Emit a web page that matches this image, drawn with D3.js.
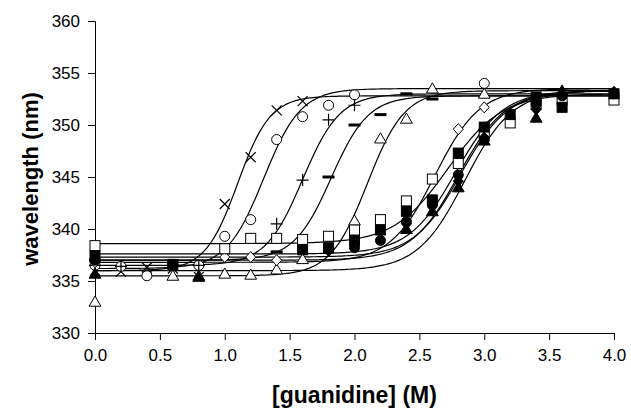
<!DOCTYPE html>
<html><head><meta charset="utf-8">
<script src="https://cdn.jsdelivr.net/npm/d3@7"></script>
<style>body{margin:0;background:#fff}text{font-family:"Liberation Sans",Arial,sans-serif}</style>
</head><body><svg id="c" width="631" height="412"></svg>
<script>
// ---- data ----
const xTicks = [0,0.5,1,1.5,2,2.5,3,3.5,4];
const yTicks = [330,335,340,345,350,355,360];
const seriesNames = ["cross","circle","plus","dash","triOpen","diaOpen","sqOpen","sqFill","cirFill","triFill","diaFill"];
const crossX = [0,0.2,0.4,0.6,0.8,1.0,1.2,1.4,1.6];
const crossY = [336.0,335.9,336.3,336.2,335.4,342.4,346.9,351.4,352.3];
const circleX = [0,0.2,0.4,0.6,0.8,1.0,1.2,1.4,1.6,1.8,2.0,3.0];
const circleY = [336.5,336.4,335.5,336.5,336.5,339.3,340.9,348.6,350.8,351.9,352.9,354.0];
const plusX = [0,0.2,0.8,1.4,1.6,1.8,2.0];
const plusY = [336.5,336.4,336.5,340.5,344.7,350.5,351.9];
const dashX = [0,1.4,1.8,2.0,2.2,2.4,2.6];
const dashY = [337.0,337.8,345.0,350.0,351.0,353.0,352.5];
const triOpenX = [0,0.6,0.8,1.0,1.2,1.4,1.6,2.0,2.2,2.4,2.6,3.0];
const triOpenY = [332.9,335.4,335.4,335.6,335.5,336.0,337.0,340.7,348.6,350.5,353.4,352.9];
const diaOpenX = [0,1.0,1.2,1.4,2.8,3.0];
const diaOpenY = [336.8,337.3,337.3,337.0,349.6,351.7];
const sqOpenX = [0,1.0,1.2,1.4,1.6,1.8,2.0,2.2,2.4,2.6,2.8,3.0,3.2,3.4,3.6,4.0];
const sqOpenY = [338.4,338.1,339.1,339.1,339.0,339.3,339.9,340.9,342.7,344.8,346.3,349.2,350.2,352.0,352.4,352.4];
const sqFillX = [0,0.6,1.6,1.8,2.0,2.2,2.4,2.6,2.8,3.0,3.2,3.4,3.6,4.0];
const sqFillY = [337.4,336.6,338.0,338.2,338.9,339.9,341.7,342.8,347.3,349.8,351.0,352.7,351.7,353.0];
const cirFillX = [0,0.6,2.0,2.2,2.4,2.6,2.8,3.0,3.4,3.6,4.0];
const cirFillY = [337.0,336.6,338.2,338.9,340.7,342.3,345.2,348.6,352.0,352.8,353.0];
const triFillX = [0,0.8,2.4,2.6,2.8,3.0,3.4,3.6];
const triFillY = [335.6,335.3,339.9,341.6,343.9,348.4,350.6,353.2];
const diaFillX = [0,1.8,2.4,2.8,3.0,3.4,4.0];
const diaFillY = [337.2,337.9,340.5,344.6,348.8,351.5,353.2];
// fitted sigmoid parameters: [base, top, midpoint, slope]
const fitBase = [336.0,336.2,336.5,337.0,335.5,336.8,338.6,337.6,337.3,336.0,337.0];
const fitTop  = [352.8,353.5,353.0,352.8,353.3,353.5,353.0,353.3,353.3,353.3,353.3];
const fitMid  = [1.10,1.30,1.60,1.82,2.10,2.62,2.72,2.78,2.82,2.85,2.80];
const fitSlope= [8,7,7,7,7,5.8,4.8,5.5,5.5,5.5,5.5];

const xs = [crossX,circleX,plusX,dashX,triOpenX,diaOpenX,sqOpenX,sqFillX,cirFillX,triFillX,diaFillX];
const ys = [crossY,circleY,plusY,dashY,triOpenY,diaOpenY,sqOpenY,sqFillY,cirFillY,triFillY,diaFillY];

// ---- layout ----
const svg = d3.select("#c");
const m = {l:95,t:21,r:17,b:79};
const W = 631, H = 412;
const x = d3.scaleLinear().domain([0,4]).range([m.l, W-m.r]);
const y = d3.scaleLinear().domain([330,360]).range([H-m.b, m.t]);

const font = '"Liberation Sans",Arial,sans-serif';
const gx = svg.append("g").attr("transform",`translate(0,${H-m.b})`)
  .call(d3.axisBottom(x).tickValues(xTicks).tickFormat(d3.format(".1f")).tickSize(7).tickPadding(9));
const gy = svg.append("g").attr("transform",`translate(${m.l},0)`)
  .call(d3.axisLeft(y).tickValues(yTicks).tickSize(7).tickPadding(8));
[gx,gy].forEach(g=>{
  g.selectAll("text").attr("font-size",17).attr("font-family",font).attr("fill","#000");
  g.selectAll("line,path").attr("stroke","#000").attr("stroke-width",1);
});

svg.append("text").attr("x",(m.l+W-m.r)/2).attr("y",403).attr("text-anchor","middle")
  .attr("font-size",23).attr("font-weight","bold").attr("font-family",font).text("[guanidine] (M)");
svg.append("text").attr("transform",`translate(30,179) rotate(-90)`).attr("text-anchor","middle")
  .attr("dy","0.35em").attr("font-size",22).attr("font-weight","bold").attr("font-family",font).text("wavelength (nm)");

// ---- fit curves ----
const grid = d3.range(0,4.0001,0.02);
const line = d3.line().x(d=>x(d[0])).y(d=>y(d[1]));
seriesNames.forEach((n,i)=>{
  const pts = grid.map(v=>[v, fitBase[i] + (fitTop[i]-fitBase[i])/(1+Math.exp(-fitSlope[i]*(v-fitMid[i])))]);
  svg.append("path").attr("d",line(pts)).attr("fill","none").attr("stroke","#000").attr("stroke-width",1.2);
});

// ---- markers ----
const sym = (type,size)=>d3.symbol().type(type).size(size)();
function marker(g,name){
  switch(name){
    case "cross": g.append("path").attr("d","M-5,-5L5,5M-5,5L5,-5").attr("stroke","#000").attr("stroke-width",1.2).attr("fill","none"); break;
    case "plus": g.append("path").attr("d","M-6,0L6,0M0,-6L0,6").attr("stroke","#000").attr("stroke-width",1.2).attr("fill","none"); break;
    case "dash": g.append("rect").attr("x",-6).attr("y",-1.5).attr("width",12).attr("height",3).attr("fill","#000"); break;
    case "circle": g.append("circle").attr("r",5).attr("fill","#fff").attr("stroke","#000"); break;
    case "cirFill": g.append("circle").attr("r",5).attr("fill","#000").attr("stroke","#000"); break;
    case "triOpen": g.append("path").attr("d",sym(d3.symbolTriangle,60)).attr("fill","#fff").attr("stroke","#000"); break;
    case "triFill": g.append("path").attr("d",sym(d3.symbolTriangle,60)).attr("fill","#000").attr("stroke","#000"); break;
    case "sqOpen": g.append("rect").attr("x",-5).attr("y",-5).attr("width",10).attr("height",10).attr("fill","#fff").attr("stroke","#000"); break;
    case "sqFill": g.append("rect").attr("x",-5).attr("y",-5).attr("width",10).attr("height",10).attr("fill","#000").attr("stroke","#000"); break;
    case "diaOpen": g.append("path").attr("d","M0,-5.5L5,0L0,5.5L-5,0Z").attr("fill","#fff").attr("stroke","#000"); break;
    case "diaFill": g.append("path").attr("d","M0,-5.5L5,0L0,5.5L-5,0Z").attr("fill","#000").attr("stroke","#000"); break;
  }
}
seriesNames.forEach((n,i)=>{
  xs[i].forEach((xv,j)=>{
    const g = svg.append("g").attr("transform",`translate(${x(xv)},${y(ys[i][j])})`);
    marker(g,n);
  });
});
</script></body></html>
